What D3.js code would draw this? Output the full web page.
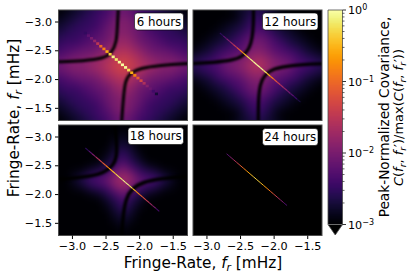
<!DOCTYPE html>
<html>
<head>
<meta charset="utf-8">
<script src="https://d3js.org/d3.v7.min.js"></script>
<style>
  html, body { margin: 0; padding: 0; background: white; }
  text { font-family: "DejaVu Sans", sans-serif; fill: black; }
</style>
</head>
<body>
<div class="wrapper"></div>
<script>
// all values below are log10 of the peak-normalized covariance
const gridFreqs = [-3.2, -3.08, -2.96, -2.84, -2.72, -2.6, -2.48, -2.36, -2.24, -2.12, -2.0, -1.88, -1.76, -1.64, -1.52, -1.4, -1.28];

const grid6 = [
  [-3.0,-2.9,-2.8,-2.7,-2.6,-2.5,-2.4,-2.2,-2.1,-2.2,-2.4,-2.5,-2.6,-2.7,-2.8,-2.9,-3.0],
  [-2.9,-2.8,-2.7,-2.6,-2.5,-2.4,-2.3,-2.1,-2.0,-2.1,-2.3,-2.4,-2.5,-2.6,-2.7,-2.8,-2.9],
  [-2.8,-2.7,-2.6,-2.5,-2.5,-2.4,-2.2,-2.0,-1.9,-2.0,-2.2,-2.4,-2.5,-2.5,-2.6,-2.7,-2.8],
  [-2.7,-2.6,-2.5,-2.5,-2.4,-2.3,-2.1,-2.0,-1.9,-2.0,-2.1,-2.3,-2.4,-2.5,-2.5,-2.6,-2.7],
  [-2.6,-2.5,-2.5,-2.4,-2.3,-2.2,-2.1,-1.9,-1.8,-1.9,-2.1,-2.2,-2.3,-2.4,-2.5,-2.5,-2.6],
  [-2.5,-2.4,-2.4,-2.3,-2.2,-2.1,-2.0,-1.8,-1.7,-1.8,-2.0,-2.1,-2.2,-2.3,-2.4,-2.4,-2.5],
  [-2.4,-2.3,-2.2,-2.1,-2.1,-2.0,-1.8,-1.65,-1.55,-1.65,-1.8,-2.0,-2.1,-2.1,-2.2,-2.3,-2.4],
  [-2.2,-2.1,-2.0,-2.0,-1.9,-1.8,-1.65,-1.5,-1.4,-1.5,-1.65,-1.8,-1.9,-2.0,-2.0,-2.1,-2.2],
  [-2.1,-2.0,-1.9,-1.9,-1.8,-1.7,-1.55,-1.4,-1.3,-1.4,-1.55,-1.7,-1.8,-1.9,-1.9,-2.0,-2.1],
  [-2.2,-2.1,-2.0,-2.0,-1.9,-1.8,-1.65,-1.5,-1.4,-1.5,-1.65,-1.8,-1.9,-2.0,-2.0,-2.1,-2.2],
  [-2.4,-2.3,-2.2,-2.1,-2.1,-2.0,-1.8,-1.65,-1.55,-1.65,-1.8,-2.0,-2.1,-2.1,-2.2,-2.3,-2.4],
  [-2.5,-2.4,-2.4,-2.3,-2.2,-2.1,-2.0,-1.8,-1.7,-1.8,-2.0,-2.1,-2.2,-2.3,-2.4,-2.4,-2.5],
  [-2.6,-2.5,-2.5,-2.4,-2.3,-2.2,-2.1,-1.9,-1.8,-1.9,-2.1,-2.2,-2.3,-2.4,-2.5,-2.5,-2.6],
  [-2.7,-2.6,-2.5,-2.5,-2.4,-2.3,-2.1,-2.0,-1.9,-2.0,-2.1,-2.3,-2.4,-2.5,-2.5,-2.6,-2.7],
  [-2.8,-2.7,-2.6,-2.5,-2.5,-2.4,-2.2,-2.0,-1.9,-2.0,-2.2,-2.4,-2.5,-2.5,-2.6,-2.7,-2.8],
  [-2.9,-2.8,-2.7,-2.6,-2.5,-2.4,-2.3,-2.1,-2.0,-2.1,-2.3,-2.4,-2.5,-2.6,-2.7,-2.8,-2.9],
  [-3.0,-2.9,-2.8,-2.7,-2.6,-2.5,-2.4,-2.2,-2.1,-2.2,-2.4,-2.5,-2.6,-2.7,-2.8,-2.9,-3.0]
];

const grid12 = [
  [-3.0,-3.0,-3.0,-3.0,-3.0,-2.9,-2.8,-2.7,-2.6,-2.7,-2.8,-2.9,-3.0,-3.0,-3.0,-3.0,-3.0],
  [-3.0,-3.0,-3.0,-3.0,-3.0,-3.0,-2.8,-2.6,-2.5,-2.6,-2.8,-3.0,-3.0,-3.0,-3.0,-3.0,-3.0],
  [-3.0,-3.0,-3.0,-3.0,-2.9,-2.8,-2.7,-2.5,-2.4,-2.5,-2.7,-2.8,-2.9,-3.0,-3.0,-3.0,-3.0],
  [-3.0,-3.0,-3.0,-2.9,-2.8,-2.7,-2.6,-2.4,-2.3,-2.4,-2.6,-2.7,-2.8,-2.9,-3.0,-3.0,-3.0],
  [-3.0,-3.0,-2.9,-2.8,-2.7,-2.6,-2.4,-2.2,-2.1,-2.2,-2.4,-2.6,-2.7,-2.8,-2.9,-3.0,-3.0],
  [-3.0,-2.9,-2.8,-2.7,-2.6,-2.4,-2.3,-2.1,-2.0,-2.1,-2.3,-2.4,-2.6,-2.7,-2.8,-2.9,-3.0],
  [-2.9,-2.8,-2.7,-2.5,-2.4,-2.3,-2.2,-2.0,-1.9,-2.0,-2.2,-2.3,-2.4,-2.5,-2.7,-2.8,-2.9],
  [-2.7,-2.6,-2.5,-2.4,-2.2,-2.1,-2.0,-1.8,-1.7,-1.8,-2.0,-2.1,-2.2,-2.4,-2.5,-2.6,-2.7],
  [-2.6,-2.5,-2.4,-2.3,-2.1,-2.0,-1.9,-1.7,-1.55,-1.7,-1.9,-2.0,-2.1,-2.3,-2.4,-2.5,-2.6],
  [-2.7,-2.6,-2.5,-2.4,-2.2,-2.1,-2.0,-1.8,-1.7,-1.8,-2.0,-2.1,-2.2,-2.4,-2.5,-2.6,-2.7],
  [-2.9,-2.8,-2.7,-2.5,-2.4,-2.3,-2.2,-2.0,-1.9,-2.0,-2.2,-2.3,-2.4,-2.5,-2.7,-2.8,-2.9],
  [-3.0,-2.9,-2.8,-2.7,-2.6,-2.4,-2.3,-2.1,-2.0,-2.1,-2.3,-2.4,-2.6,-2.7,-2.8,-2.9,-3.0],
  [-3.0,-3.0,-2.9,-2.8,-2.7,-2.6,-2.4,-2.2,-2.1,-2.2,-2.4,-2.6,-2.7,-2.8,-2.9,-3.0,-3.0],
  [-3.0,-3.0,-3.0,-2.9,-2.8,-2.7,-2.6,-2.4,-2.3,-2.4,-2.6,-2.7,-2.8,-2.9,-3.0,-3.0,-3.0],
  [-3.0,-3.0,-3.0,-3.0,-2.9,-2.8,-2.7,-2.5,-2.4,-2.5,-2.7,-2.8,-2.9,-3.0,-3.0,-3.0,-3.0],
  [-3.0,-3.0,-3.0,-3.0,-3.0,-3.0,-2.8,-2.6,-2.5,-2.6,-2.8,-3.0,-3.0,-3.0,-3.0,-3.0,-3.0],
  [-3.0,-3.0,-3.0,-3.0,-3.0,-2.9,-2.8,-2.7,-2.6,-2.7,-2.8,-2.9,-3.0,-3.0,-3.0,-3.0,-3.0]
];

const grid18 = [
  [-3.0,-3.0,-3.0,-3.0,-3.0,-3.0,-3.0,-3.0,-3.0,-3.0,-3.0,-3.0,-3.0,-3.0,-3.0,-3.0,-3.0],
  [-3.0,-3.0,-3.0,-3.0,-3.0,-3.0,-3.0,-3.0,-2.9,-3.0,-3.0,-3.0,-3.0,-3.0,-3.0,-3.0,-3.0],
  [-3.0,-3.0,-3.0,-3.0,-3.0,-3.0,-3.0,-2.9,-2.8,-2.9,-3.0,-3.0,-3.0,-3.0,-3.0,-3.0,-3.0],
  [-3.0,-3.0,-3.0,-3.0,-3.0,-3.0,-3.0,-2.8,-2.7,-2.8,-3.0,-3.0,-3.0,-3.0,-3.0,-3.0,-3.0],
  [-3.0,-3.0,-3.0,-3.0,-3.0,-3.0,-2.9,-2.7,-2.5,-2.7,-2.9,-3.0,-3.0,-3.0,-3.0,-3.0,-3.0],
  [-3.0,-3.0,-3.0,-3.0,-3.0,-3.0,-2.8,-2.6,-2.4,-2.6,-2.8,-3.0,-3.0,-3.0,-3.0,-3.0,-3.0],
  [-3.0,-3.0,-3.0,-3.0,-2.9,-2.8,-2.6,-2.4,-2.1,-2.4,-2.6,-2.8,-2.9,-3.0,-3.0,-3.0,-3.0],
  [-3.0,-3.0,-2.9,-2.8,-2.6,-2.5,-2.4,-2.0,-1.85,-2.0,-2.4,-2.5,-2.6,-2.8,-2.9,-3.0,-3.0],
  [-3.0,-3.0,-2.8,-2.6,-2.4,-2.3,-2.1,-1.85,-1.65,-1.85,-2.1,-2.3,-2.4,-2.6,-2.8,-3.0,-3.0],
  [-3.0,-3.0,-2.9,-2.8,-2.6,-2.5,-2.4,-2.0,-1.85,-2.0,-2.4,-2.5,-2.6,-2.8,-2.9,-3.0,-3.0],
  [-3.0,-3.0,-3.0,-3.0,-2.9,-2.8,-2.6,-2.4,-2.1,-2.4,-2.6,-2.8,-2.9,-3.0,-3.0,-3.0,-3.0],
  [-3.0,-3.0,-3.0,-3.0,-3.0,-3.0,-2.8,-2.6,-2.4,-2.6,-2.8,-3.0,-3.0,-3.0,-3.0,-3.0,-3.0],
  [-3.0,-3.0,-3.0,-3.0,-3.0,-3.0,-2.9,-2.7,-2.5,-2.7,-2.9,-3.0,-3.0,-3.0,-3.0,-3.0,-3.0],
  [-3.0,-3.0,-3.0,-3.0,-3.0,-3.0,-3.0,-2.8,-2.7,-2.8,-3.0,-3.0,-3.0,-3.0,-3.0,-3.0,-3.0],
  [-3.0,-3.0,-3.0,-3.0,-3.0,-3.0,-3.0,-2.9,-2.8,-2.9,-3.0,-3.0,-3.0,-3.0,-3.0,-3.0,-3.0],
  [-3.0,-3.0,-3.0,-3.0,-3.0,-3.0,-3.0,-3.0,-2.9,-3.0,-3.0,-3.0,-3.0,-3.0,-3.0,-3.0,-3.0],
  [-3.0,-3.0,-3.0,-3.0,-3.0,-3.0,-3.0,-3.0,-3.0,-3.0,-3.0,-3.0,-3.0,-3.0,-3.0,-3.0,-3.0]
];

// the diagonal ridge: frequencies and values for each integration time
const ridgeFreqs6 = [-2.80,-2.754,-2.708,-2.662,-2.616,-2.57,-2.524,-2.478,-2.432,-2.386,-2.34,-2.294,-2.248,-2.202,-2.156,-2.11,-2.064,-2.018,-1.972,-1.926,-1.88,-1.834,-1.788,-1.742];
const ridgeVals6 = [-2.5,-2.2,-2.0,-1.8,-1.5,-1.0,-0.85,-0.55,-0.35,-0.1,-0.18,-0.03,-0.02,-0.05,-0.25,-0.55,-0.8,-1.1,-1.3,-1.6,-1.9,-2.1,-2.4,-2.7];

const ridgeFreqs12 = [-2.80,-2.75,-2.70,-2.65,-2.60,-2.55,-2.50,-2.45,-2.40,-2.35,-2.30,-2.25,-2.20,-2.15,-2.10,-2.05,-2.00,-1.95,-1.90,-1.85,-1.80,-1.75,-1.70,-1.65,-1.60];
const ridgeVals12 = [-2.7,-2.4,-2.1,-1.85,-1.6,-1.35,-1.0,-0.65,-0.35,-0.15,-0.05,-0.02,-0.03,-0.1,-0.3,-0.7,-1.05,-1.3,-1.55,-1.75,-1.95,-2.15,-2.35,-2.55,-2.8];

const ridgeFreqs18 = [-2.80,-2.75,-2.70,-2.65,-2.60,-2.55,-2.50,-2.45,-2.40,-2.35,-2.30,-2.25,-2.20,-2.15,-2.10,-2.05,-2.00,-1.95,-1.90,-1.85,-1.80,-1.75,-1.70];
const ridgeVals18 = [-2.7,-2.4,-2.1,-1.8,-1.5,-1.25,-1.0,-0.75,-0.5,-0.35,-0.2,-0.1,-0.06,-0.15,-0.35,-0.6,-0.9,-1.15,-1.35,-1.6,-1.85,-2.15,-2.6];

const ridgeFreqs24 = [-2.70,-2.65,-2.60,-2.55,-2.50,-2.45,-2.40,-2.35,-2.30,-2.25,-2.20,-2.15,-2.10,-2.05,-2.00,-1.95,-1.90,-1.85,-1.80];
const ridgeVals24 = [-2.4,-2.05,-1.75,-1.45,-1.2,-0.95,-0.7,-0.52,-0.36,-0.28,-0.38,-0.55,-0.75,-1.0,-1.2,-1.5,-1.8,-2.1,-2.5];

// black null curves, [fx, fy] in mHz
const nulls6 = [
  [[-2.31,-3.3],[-2.31,-3.2],[-2.325,-2.91],[-2.334,-2.647],[-2.41,-2.444],[-2.533,-2.357],[-2.83,-2.316],[-3.2,-2.30],[-3.3,-2.30]],
  [[-2.26,-1.18],[-2.26,-1.28],[-2.236,-1.63],[-2.21,-1.98],[-2.13,-2.106],[-1.987,-2.19],[-1.69,-2.24],[-1.28,-2.27],[-1.18,-2.27]]
];
const nulls12 = [
  [[-2.30,-3.3],[-2.30,-3.2],[-2.30,-2.97],[-2.317,-2.706],[-2.362,-2.53],[-2.451,-2.40],[-2.60,-2.327],[-2.90,-2.287],[-3.2,-2.27],[-3.3,-2.27]],
  [[-2.228,-1.18],[-2.228,-1.28],[-2.228,-1.63],[-2.203,-1.92],[-2.13,-2.08],[-2.005,-2.18],[-1.757,-2.24],[-1.28,-2.27],[-1.18,-2.27]]
];
const nulls18 = [
  [[-2.36,-3.3],[-2.36,-3.2],[-2.334,-2.88],[-2.334,-2.647],[-2.384,-2.50],[-2.508,-2.385],[-2.68,-2.31],[-3.2,-2.25],[-3.3,-2.25]],
  [[-2.26,-1.18],[-2.26,-1.28],[-2.236,-1.66],[-2.196,-1.92],[-2.11,-2.095],[-1.938,-2.21],[-1.69,-2.27],[-1.28,-2.31],[-1.18,-2.31]]
];

const tickVals = [-3.0, -2.5, -2.0, -1.5];
const cbarExps = [0, -1, -2, -3];

const panels = [
  { label: "6 hours", grid: grid6, nulls: nulls6, rf: ridgeFreqs6, rv: ridgeVals6, w: 3.1, nullW: 3, left: 58.5, top: 10, boxW: 49, boxTop: 3 },
  { label: "12 hours", grid: grid12, nulls: nulls12, rf: ridgeFreqs12, rv: ridgeVals12, w: 1.2, nullW: 3.2, left: 193, top: 10, boxW: 55.5, boxTop: 3 },
  { label: "18 hours", grid: grid18, nulls: nulls18, rf: ridgeFreqs18, rv: ridgeVals18, w: 1.1, nullW: 3.6, left: 58.5, top: 125, boxW: 55.5, boxTop: 2.5 },
  { label: "24 hours", grid: null, nulls: [], rf: ridgeFreqs24, rv: ridgeVals24, w: 1.0, nullW: 0, left: 193, top: 125, boxW: 55.5, boxTop: 3.5 }
];

const width = 415, height = 277, panelW = 129, panelH = 110.5;
const fDomain = [-3.2, -1.28];
const spine = "#4d4d4d";

const svg = d3.select(".wrapper").append("svg")
  .attr("width", width)
  .attr("height", height)
  .style("display", "block");

const color = d3.scaleSequentialLog(d3.interpolateInferno).domain([1e-3, 1]).clamp(true);
const fromLog = (v) => color(Math.pow(10, v));

const defs = svg.append("defs");
const blur = defs.append("filter").attr("id", "soft")
  .attr("x", "-20%").attr("y", "-20%").attr("width", "140%").attr("height", "140%")
  .attr("color-interpolation-filters", "sRGB");
blur.append("feGaussianBlur").attr("stdDeviation", 4);
const blurLine = defs.append("filter").attr("id", "softLine")
  .attr("filterUnits", "userSpaceOnUse")
  .attr("x", 0).attr("y", 0).attr("width", width).attr("height", height)
  .attr("color-interpolation-filters", "sRGB");
blurLine.append("feGaussianBlur").attr("stdDeviation", 0.9);

panels.forEach((p, pi) => {
  const x = d3.scaleLinear().domain(fDomain).range([0, panelW]);
  const y = d3.scaleLinear().domain(fDomain).range([0, panelH]);
  const band = gridFreqs[1] - gridFreqs[0];

  const g = svg.append("g").attr("transform", "translate(" + p.left + "," + p.top + ")");
  defs.append("clipPath").attr("id", "clip" + pi)
    .append("rect").attr("width", panelW).attr("height", panelH);

  const inner = g.append("g").attr("clip-path", "url(#clip" + pi + ")");
  inner.append("rect").attr("width", panelW).attr("height", panelH).attr("fill", "black");

  if (p.grid) {
    const cells = d3.cross(d3.range(gridFreqs.length), d3.range(gridFreqs.length));
    const pad = 14; // edge cells run past the clip so the blur does not fade there
    inner.append("g").attr("filter", "url(#soft)")
      .selectAll("rect")
      .data(cells)
      .enter()
      .append("rect")
      .attr("x", (d) => x(gridFreqs[d[0]] - band / 2) - (d[0] == 0 ? pad : 0))
      .attr("y", (d) => y(gridFreqs[d[1]] - band / 2) - (d[1] == 0 ? pad : 0))
      .attr("width", (d) => x(band) - x(0) + 0.5 + (d[0] == 0 || d[0] == gridFreqs.length - 1 ? pad : 0))
      .attr("height", (d) => y(band) - y(0) + 0.5 + (d[1] == 0 || d[1] == gridFreqs.length - 1 ? pad : 0))
      .attr("fill", (d) => fromLog(p.grid[d[1]][d[0]]));
  }

  const nullLine = d3.line().x((d) => x(d[0])).y((d) => y(d[1])).curve(d3.curveBasis);
  inner.append("g").attr("filter", "url(#softLine)")
    .selectAll("path")
    .data(p.nulls)
    .enter()
    .append("path")
    .attr("d", nullLine)
    .attr("fill", "none")
    .attr("stroke", "black")
    .attr("stroke-width", p.nullW);

  // ridge: square cells for the 6 hour bins, thin segments otherwise
  if (pi == 0) {
    const bin = p.rf[1] - p.rf[0];
    inner.selectAll("rect.ridge")
      .data(p.rf)
      .enter()
      .append("rect")
      .attr("class", "ridge")
      .attr("x", (d) => x(d - bin / 2))
      .attr("y", (d) => y(d - bin / 2))
      .attr("width", x(bin) - x(0))
      .attr("height", y(bin) - y(0))
      .attr("fill", (d, i) => fromLog(p.rv[i]));
  } else {
    inner.selectAll("line.ridge")
      .data(p.rf.slice(0, -1))
      .enter()
      .append("line")
      .attr("class", "ridge")
      .attr("x1", (d) => x(d))
      .attr("y1", (d) => y(d))
      .attr("x2", (d, i) => x(p.rf[i + 1]))
      .attr("y2", (d, i) => y(p.rf[i + 1]))
      .attr("stroke-width", p.w)
      .attr("stroke", (d, i) => fromLog((p.rv[i] + p.rv[i + 1]) / 2));
  }

  g.append("rect").attr("width", panelW).attr("height", panelH)
    .attr("fill", "none").attr("stroke", spine).attr("stroke-width", 1);

  // label box
  g.append("rect")
    .attr("x", panelW - p.boxW - 4)
    .attr("y", p.boxTop)
    .attr("width", p.boxW)
    .attr("height", 17)
    .attr("rx", 3)
    .attr("fill", "white")
    .attr("stroke", "black")
    .attr("stroke-width", 0.6);
  g.append("text")
    .attr("x", panelW - p.boxW / 2 - 4)
    .attr("y", p.boxTop + 12.6)
    .attr("text-anchor", "middle")
    .style("font-size", "11.8px")
    .text(p.label);

  if (pi % 2 == 0) {
    g.append("g").call(d3.axisLeft(y).tickValues(tickVals).tickFormat(d3.format(".1f")).tickSize(3.5).tickSizeOuter(0))
      .call((a) => a.select(".domain").remove())
      .call((a) => a.selectAll("text").style("font-size", "11.2px"));
  }
  if (pi >= 2) {
    g.append("g").attr("transform", "translate(0," + panelH + ")")
      .call(d3.axisBottom(x).tickValues(tickVals).tickFormat(d3.format(".1f")).tickSize(3.5).tickSizeOuter(0))
      .call((a) => a.select(".domain").remove())
      .call((a) => a.selectAll("text").style("font-size", "11.2px"));
  }
});

// colorbar
const cbarX = 328, cbarW = 14.5, cbarTop = 10, cbarBottom = 224.5, cbarTip = 235;
const cScale = d3.scaleLog().domain([1e-3, 1]).range([cbarBottom, cbarTop]);
const cbar = svg.append("g");
cbar.selectAll("rect")
  .data(d3.range(0, 215))
  .enter()
  .append("rect")
  .attr("x", cbarX)
  .attr("y", (d) => cbarTop + d)
  .attr("width", cbarW)
  .attr("height", 1.2)
  .attr("fill", (d) => color(cScale.invert(cbarTop + d + 0.5)));
cbar.append("path")
  .attr("d", d3.line()([[cbarX, cbarBottom], [cbarX + cbarW, cbarBottom], [cbarX + cbarW / 2, cbarTip]]) + "Z")
  .attr("fill", "black");
cbar.append("path")
  .attr("d", d3.line()([[cbarX, cbarTop], [cbarX + cbarW, cbarTop], [cbarX + cbarW, cbarBottom], [cbarX + cbarW / 2, cbarTip], [cbarX, cbarBottom]]) + "Z")
  .attr("fill", "none").attr("stroke", spine).attr("stroke-width", 0.8);
cbar.append("line")
  .attr("x1", cbarX).attr("x2", cbarX + cbarW)
  .attr("y1", cbarBottom).attr("y2", cbarBottom)
  .attr("stroke", "#888").attr("stroke-width", 0.8);

const minor = [];
[-3, -2, -1].forEach((e) => d3.range(2, 10).forEach((m) => minor.push(m * Math.pow(10, e))));
cbar.selectAll("line.minor")
  .data(minor)
  .enter()
  .append("line")
  .attr("class", "minor")
  .attr("x1", cbarX + cbarW).attr("x2", cbarX + cbarW + 2)
  .attr("y1", (d) => cScale(d)).attr("y2", (d) => cScale(d))
  .attr("stroke", "black").attr("stroke-width", 0.6);
cbar.selectAll("line.major")
  .data(cbarExps)
  .enter()
  .append("line")
  .attr("class", "major")
  .attr("x1", cbarX + cbarW).attr("x2", cbarX + cbarW + 3.5)
  .attr("y1", (d) => cScale(Math.pow(10, d))).attr("y2", (d) => cScale(Math.pow(10, d)))
  .attr("stroke", "black").attr("stroke-width", 0.8);
const cbarLabels = cbar.selectAll("text.cl")
  .data(cbarExps)
  .enter()
  .append("text")
  .attr("class", "cl")
  .attr("x", cbarX + cbarW + 5.5)
  .attr("y", (d) => cScale(Math.pow(10, d)) + 4.2)
  .style("font-size", "11.2px")
  .text("10");
cbarLabels.append("tspan")
  .attr("dy", -4)
  .style("font-size", "8px")
  .text((d) => (d == 0 ? "0" : "\u2212" + Math.abs(d)));

// axis labels, with the math parts as tspans
function mathLabel(sel, parts, size) {
  parts.forEach((t) => {
    const s = sel.append("tspan").text(t.s);
    if (t.i) s.style("font-style", "italic");
    if (t.sub) s.attr("dy", size * 0.22).style("font-size", size * 0.7 + "px");
    if (t.back) s.attr("dy", -size * 0.22);
  });
}

const xLabel = svg.append("text")
  .attr("x", 203).attr("y", 267.5)
  .attr("text-anchor", "middle")
  .style("font-size", "15.3px");
mathLabel(xLabel, [{ s: "Fringe-Rate, " }, { s: "f", i: 1 }, { s: "r", i: 1, sub: 1 }, { s: " [mHz]", back: 1 }], 15.3);

const yLabel = svg.append("text")
  .attr("transform", "translate(18.5,118) rotate(-90)")
  .attr("text-anchor", "middle")
  .style("font-size", "15.3px");
mathLabel(yLabel, [{ s: "Fringe-Rate, " }, { s: "f", i: 1 }, { s: "r", i: 1, sub: 1 }, { s: " [mHz]", back: 1 }], 15.3);

svg.append("text")
  .attr("transform", "translate(389,117) rotate(-90)")
  .attr("text-anchor", "middle")
  .style("font-size", "13.7px")
  .text("Peak-Normalized Covariance,");

const cLabel = svg.append("text")
  .attr("transform", "translate(403,117.5) rotate(-90)")
  .attr("text-anchor", "middle")
  .style("font-size", "13px");
mathLabel(cLabel, [
  { s: "C", i: 1 }, { s: "(" }, { s: "f", i: 1 }, { s: "r", i: 1, sub: 1 }, { s: ", ", back: 1 }, { s: "f", i: 1 }, { s: "r", i: 1, sub: 1 },
  { s: "\u2032)/max(", back: 1 }, { s: "C", i: 1 }, { s: "(" }, { s: "f", i: 1 }, { s: "r", i: 1, sub: 1 }, { s: ", ", back: 1 }, { s: "f", i: 1 }, { s: "r", i: 1, sub: 1 },
  { s: "\u2032))", back: 1 }
], 13);
</script>
</body>
</html>
